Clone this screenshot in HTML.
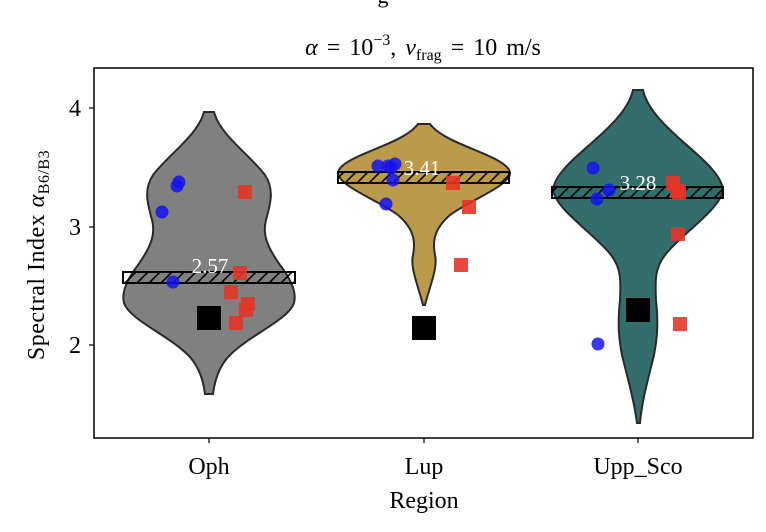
<!DOCTYPE html>
<html><head><meta charset="utf-8"><style>body{margin:0;background:#fff}svg{display:block}</style></head><body>
<svg width="766" height="532" viewBox="0 0 766 532" xmlns="http://www.w3.org/2000/svg" font-family="Liberation Serif, serif">
<defs>
<pattern id="h" patternUnits="userSpaceOnUse" width="12" height="12">
<path d="M-3,15 L15,-3 M-15,15 L3,-3 M9,15 L27,-3" stroke="#000" stroke-width="1.6"/>
</pattern>
</defs>
<text x="383" y="3" font-size="22" text-anchor="middle">g</text>
<text x="423" y="55" font-size="24" text-anchor="middle" font-style="italic" word-spacing="3">α <tspan font-style="normal">= 10</tspan><tspan font-style="normal" font-size="16" dy="-10">−3</tspan><tspan font-style="normal" dy="10">,  </tspan>v<tspan font-size="16" dy="5" font-style="normal">frag</tspan><tspan dy="-5" font-style="normal"> = 10 m/s</tspan></text>
<rect x="94" y="68" width="659" height="370" fill="#fff" stroke="#000" stroke-width="1.5"/>
<path d="M204,112 L214,112 C220,135 250,155 265,175 C275,190 270,205 266,220 C262,235 268,248 280,265 C290,278 297,292 294,303 C288,320 250,335 230,355 C220,365 215,378 213,394 L205,394 C203,378 198,365 188,355 C168,335 130,320 124,303 C121,292 128,278 138,265 C150,248 156,235 152,220 C148,205 143,190 153,175 C168,155 198,135 204,112 Z" fill="#808080" stroke="#2a2a2a" stroke-width="2"/>
<rect x="123" y="272" width="172" height="11" fill="url(#h)" stroke="#000" stroke-width="2"/>
<text x="210" y="273" font-size="21" fill="#fff" text-anchor="middle">2.57</text>
<path d="M418,124 L430,124 C445,145 505,155 510,172 C512,185 470,200 450,215 C435,228 432,240 435,255 C438,268 430,285 425,305 L423,305 C418,285 410,268 413,255 C416,240 413,228 398,215 C378,200 336,185 338,172 C343,155 403,145 418,124 Z" fill="#bc9a4c" stroke="#2a2a2a" stroke-width="2"/>
<rect x="338" y="172" width="171" height="11" fill="url(#h)" stroke="#000" stroke-width="2"/>
<text x="422" y="175" font-size="21" fill="#fff" text-anchor="middle">3.41</text>
<path d="M633,90 L643,90 C652,130 720,160 723,190 C720,210 680,235 665,255 C655,268 655,280 656,300 C658,320 658,335 654,355 C648,380 642,400 640,423 L637,423 C634,400 628,380 622,355 C618,335 618,320 620,300 C621,280 621,268 611,255 C596,235 556,210 553,190 C556,160 624,130 633,90 Z" fill="#336e6c" stroke="#2a2a2a" stroke-width="2"/>
<rect x="552" y="187" width="171" height="11" fill="url(#h)" stroke="#000" stroke-width="2"/>
<text x="638" y="190" font-size="21" fill="#fff" text-anchor="middle">3.28</text>
<g fill="#1414ee" fill-opacity="0.85">
<circle cx="179" cy="182" r="6.5"/><circle cx="177" cy="186" r="6.5"/><circle cx="162" cy="212" r="6.5"/><circle cx="173" cy="282" r="6.5"/>
<circle cx="378" cy="166" r="6.5"/><circle cx="388" cy="166" r="6.5"/><circle cx="395" cy="164" r="6.5"/><circle cx="391" cy="168" r="6.5"/><circle cx="393" cy="180" r="6.5"/><circle cx="386" cy="204" r="6.5"/>
<circle cx="593" cy="168" r="6.5"/><circle cx="597" cy="199" r="6.5"/><circle cx="609" cy="190" r="6.5"/><circle cx="598" cy="344" r="6.5"/>
</g>
<g fill="#e53528" fill-opacity="0.9">
<rect x="238" y="185" width="14" height="14"/><rect x="233" y="266" width="14" height="14"/><rect x="224" y="285" width="14" height="14"/><rect x="241" y="297" width="14" height="14"/><rect x="239" y="303" width="14" height="14"/><rect x="229" y="316" width="14" height="14"/>
<rect x="446" y="176" width="14" height="14"/><rect x="462" y="200" width="14" height="14"/><rect x="454" y="258" width="14" height="14"/>
<rect x="666" y="176" width="14" height="14"/><rect x="672" y="186" width="14" height="14"/><rect x="670" y="184" width="14" height="14"/><rect x="671" y="227" width="14" height="14"/><rect x="673" y="317" width="14" height="14"/>
</g>
<g fill="#000">
<rect x="197" y="306" width="24" height="24"/><rect x="412" y="316" width="24" height="24"/><rect x="626" y="298" width="24" height="24"/>
</g>
<g stroke="#000" stroke-width="1.2">
<line x1="89" y1="108" x2="94" y2="108"/><line x1="89" y1="227" x2="94" y2="227"/><line x1="89" y1="345" x2="94" y2="345"/>
<line x1="209" y1="438" x2="209" y2="443"/><line x1="424" y1="438" x2="424" y2="443"/><line x1="638" y1="438" x2="638" y2="443"/>
</g>
<g font-size="24" text-anchor="end">
<text x="81" y="116">4</text><text x="81" y="235">3</text><text x="81" y="353">2</text>
</g>
<g font-size="24" text-anchor="middle">
<text x="209" y="474">Oph</text><text x="424" y="474">Lup</text><text x="638" y="474">Upp_Sco</text>
<text x="424" y="508">Region</text>
</g>
<text transform="translate(44,255) rotate(-90)" font-size="24" text-anchor="middle" letter-spacing="0.5">Spectral Index <tspan font-style="italic">α</tspan><tspan font-size="16" dy="5">B6/B3</tspan></text>
</svg>
</body></html>
